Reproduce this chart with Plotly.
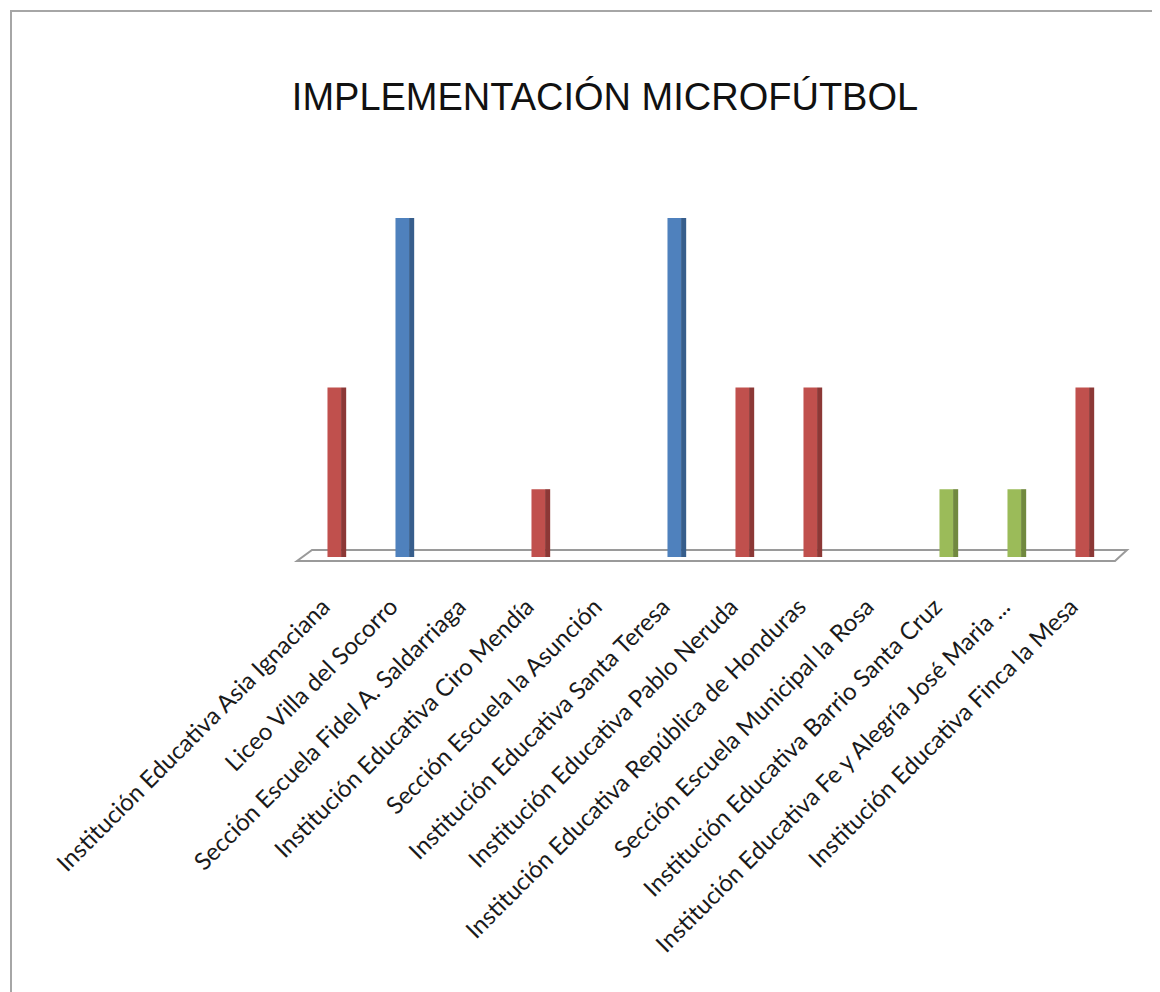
import plotly.graph_objects as go

categories = [
    "Institución Educativa Asia Ignaciana",
    "Liceo Villa del Socorro",
    "Sección Escuela Fidel A. Saldarriaga",
    "Institución Educativa Ciro Mendía",
    "Sección Escuela la Asunción",
    "Institución Educativa Santa Teresa",
    "Institución Educativa Pablo Neruda",
    "Institución Educativa República de Honduras",
    "Sección Escuela Municipal la Rosa",
    "Institución Educativa Barrio Santa Cruz",
    "Institución Educativa Fe y Alegría José Maria ...",
    "Institución Educativa Finca la Mesa",
]
values = [5, 10, 0, 2, 0, 10, 5, 5, 0, 2, 2, 5]
face_colors = ["#C0504D", "#4F81BD", "#C0504D", "#C0504D", "#C0504D", "#4F81BD",
               "#C0504D", "#C0504D", "#C0504D", "#9BBB59", "#9BBB59", "#C0504D"]
side_colors = ["#8C3836", "#375E8C", "#8C3836", "#8C3836", "#8C3836", "#375E8C",
               "#8C3836", "#8C3836", "#8C3836", "#71893F", "#71893F", "#8C3836"]
title_text = "IMPLEMENTACIÓN MICROFÚTBOL"

OFF = 8  # page body margin
W, H = 1160, 992
ML, MR, MT, MB = 303 - OFF, 49, 200 - OFF, 443
pw = W - ML - MR
ph = H - MT - MB

def px_x(p):
    return (p - OFF - ML) / pw

def px_y(p):
    return (H - MB - (p - OFF)) / ph

fig = go.Figure()
# front faces
fig.add_trace(go.Bar(x=categories, y=values, width=0.2, offset=-0.14,
                     marker=dict(color=face_colors, line=dict(width=0)),
                     hoverinfo="x+y", showlegend=False))
# darker side faces
fig.add_trace(go.Bar(x=categories, y=values, width=0.075, offset=0.06,
                     marker=dict(color=side_colors, line=dict(width=0)),
                     hoverinfo="skip", showlegend=False))

shapes = []
# 3D floor (parallelogram)
floor_path = "M {x0},{y0} L {x1},{y0} L {x2},{y1} L {x3},{y1} Z".format(
    x0=px_x(297), y0=px_y(561), x1=px_x(1115), x2=px_x(1127), y1=px_y(550), x3=px_x(312))
shapes.append(dict(type="path", xref="paper", yref="paper", path=floor_path,
                   fillcolor="rgba(255,255,255,0)", line=dict(color="#9A9A9A", width=2),
                   layer="below"))
# chart frame (top and left gray borders)
shapes.append(dict(type="line", xref="paper", yref="paper",
                   x0=px_x(10), x1=px_x(1180), y0=px_y(11), y1=px_y(11),
                   line=dict(color="#A6A6A6", width=2)))
shapes.append(dict(type="line", xref="paper", yref="paper",
                   x0=px_x(11), x1=px_x(11), y0=px_y(10), y1=px_y(1010),
                   line=dict(color="#A6A6A6", width=2)))

fig.update_layout(
    width=W, height=H,
    margin=dict(l=ML, r=MR, t=MT, b=MB),
    paper_bgcolor="white", plot_bgcolor="rgba(0,0,0,0)",
    barmode="overlay",
    title=dict(text=title_text, x=(605 - OFF) / W, xanchor="center", xref="container",
               y=1 - (97 - OFF) / H, yanchor="middle", yref="container",
               font=dict(family="Liberation Sans, Arial", size=38, color="#111111")),
    shapes=shapes,
    font=dict(family="Lato, Calibri, sans-serif", color="#1a1a1a"),
)
fig.update_xaxes(type="category", range=[-0.5, 11.5], tickangle=-45,
                 showgrid=False, zeroline=False, showline=False, ticks="",
                 tickfont=dict(family="Lato, Calibri, sans-serif", size=24, color="#1a1a1a"),
                 ticklabelstandoff=30, ticklabelshift=-14)
fig.update_yaxes(range=[0, 10.53], showgrid=False, zeroline=False, showline=False,
                 showticklabels=False, ticks="")

fig.write_html("out.html")
